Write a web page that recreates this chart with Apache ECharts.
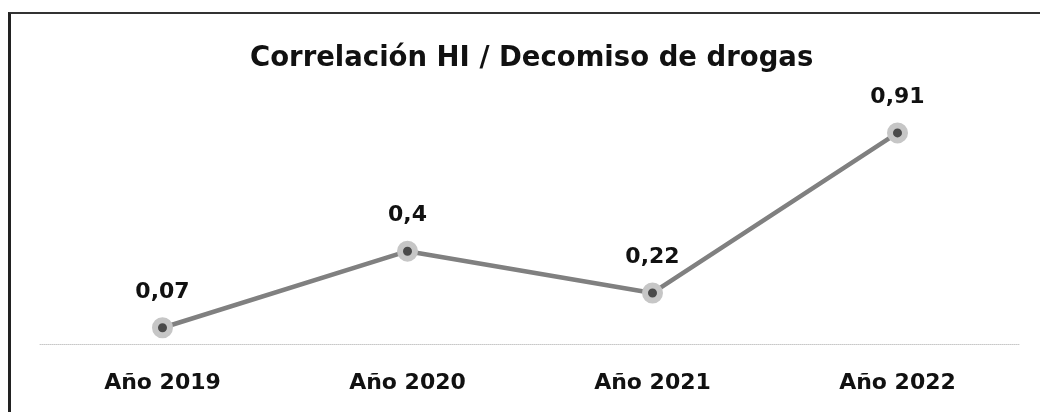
<!DOCTYPE html>
<html>
<head>
<meta charset="utf-8">
<script src="https://cdn.jsdelivr.net/npm/echarts@6/dist/echarts.min.js"></script>
<style>
    html, body { margin: 0; padding: 0; background: #fff; }
    #frame {
        position: absolute; left: 8px; top: 12px; right: -4px; bottom: -4px;
        border-left: 3px solid #222; border-top: 2px solid #333;
    }
    #chart { position: absolute; left: 0; top: 0; width: 1040px; height: 412px; }
</style>
</head>
<body>
<div id="frame"></div>
<div id="chart"></div>
<script>
    // datos
    var anios = ['Año 2019', 'Año 2020', 'Año 2021', 'Año 2022'];
    var correlacion = [0.07, 0.4, 0.22, 0.91];

    var fuente = 'DejaVu Sans';
    var myChart = echarts.init(document.getElementById('chart'));
    var option = {
        animation: false,
        title: {
            text: 'Correlación HI / Decomiso de drogas',
            left: 245,
            top: 40,
            textStyle: { fontFamily: fuente, fontWeight: 'bold', fontSize: 27.5, color: '#111' }
        },
        grid: { left: 40, right: 20, top: 112, bottom: 68 },
        xAxis: {
            type: 'category',
            data: anios,
            axisLine: { lineStyle: { color: '#c8c8c8', type: 'dotted', width: 1 } },
            axisTick: { show: false },
            axisLabel: {
                margin: 28,
                fontFamily: fuente, fontWeight: 'bold', fontSize: 22, color: '#111'
            }
        },
        yAxis: {
            type: 'value',
            min: 0, max: 1,
            show: false,
            splitLine: { show: false }
        },
        series: [{
            type: 'line',
            data: correlacion,
            lineStyle: { color: '#808080', width: 4.5 },
            symbol: 'circle',
            symbolSize: 15,
            itemStyle: { color: '#4a4a4a', borderColor: '#c6c6c6', borderWidth: 6 },
            label: {
                show: true,
                position: 'top',
                distance: 14,
                formatter: function (p) { return String(p.value).replace('.', ','); },
                fontFamily: fuente, fontWeight: 'bold', fontSize: 22, color: '#111'
            }
        }]
    };
    myChart.setOption(option);
</script>
</body>
</html>
